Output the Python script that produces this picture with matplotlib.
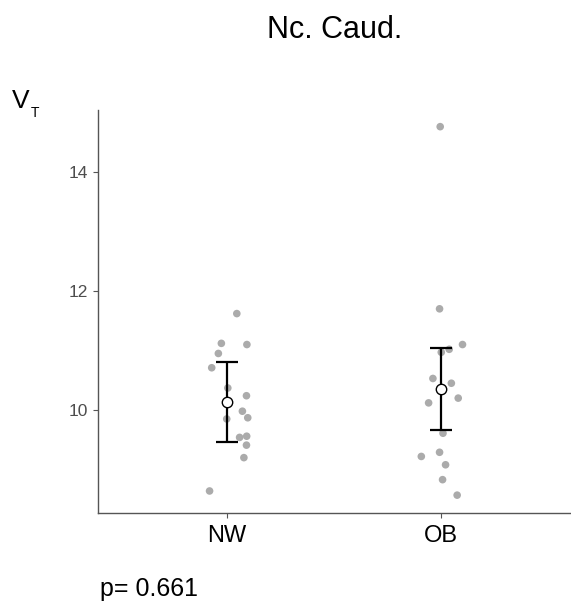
import matplotlib
matplotlib.use('Agg')
import matplotlib.pyplot as plt

plt.rcParams['font.family'] = ['Liberation Sans', 'DejaVu Sans']

groups = ['NW', 'OB']

# individual values and their horizontal jitter
nw_vals = [11.62, 11.12, 11.10, 10.95, 10.71, 10.37, 10.24, 9.98, 9.87, 9.85,
           9.54, 9.56, 9.41, 9.20, 8.64]
nw_jit = [0.047, -0.025, 0.094, -0.039, -0.070, 0.005, 0.092, 0.073, 0.098, 0.0,
          0.060, 0.093, 0.092, 0.080, -0.080]
ob_vals = [11.70, 14.76, 11.10, 10.97, 11.02, 10.53, 10.45, 10.12, 10.20, 9.61,
           9.22, 9.29, 9.08, 8.83, 8.57]
ob_jit = [-0.008, -0.005, 0.099, 0.0, 0.037, -0.039, 0.047, -0.059, 0.079, 0.008,
          -0.093, -0.008, 0.020, 0.006, 0.074]

means = [10.13, 10.35]
err_lo = [9.46, 9.66]
err_hi = [10.81, 11.05]

p_text = 'p= 0.661'
title = 'Nc. Caud.'

fig = plt.figure(figsize=(5.71, 6.05), dpi=100)
ax = fig.add_axes([98/571, 1 - 513/605, 472/571, 403/605])

for i, (vals, jit) in enumerate([(nw_vals, nw_jit), (ob_vals, ob_jit)]):
    xs = [i + 1 + j for j in jit]
    ax.scatter(xs, vals, s=30, color='#ababab', edgecolors='none', zorder=2)

xpos = [1, 2]
yerr = [[m - lo for m, lo in zip(means, err_lo)],
        [hi - m for m, hi in zip(means, err_hi)]]
ax.errorbar(xpos, means, yerr=yerr, fmt='none', ecolor='black',
            elinewidth=1.6, capsize=8, capthick=1.6, zorder=3)
ax.plot(xpos, means, 'o', markersize=7.5, markerfacecolor='white',
        markeredgecolor='black', markeredgewidth=1.0, zorder=4)

ax.set_xlim(0.4, 2.6)
ax.set_ylim(8.27, 15.04)
ax.set_xticks(xpos)
ax.set_xticklabels(groups, fontsize=17, color='black')
ax.set_yticks([10, 12, 14])
ax.tick_params(axis='y', labelsize=12.5, labelcolor='#4d4d4d', length=3.5,
               color='#555555', pad=4)
ax.tick_params(axis='x', length=3.5, color='#555555', pad=5)

for s in ['top', 'right']:
    ax.spines[s].set_visible(False)
for s in ['left', 'bottom']:
    ax.spines[s].set_color('#555555')
    ax.spines[s].set_linewidth(1.0)

fig.text(335/571, 1 - 38/605, title, fontsize=22, ha='center', va='baseline')
fig.text(12/571, 1 - 108/605, 'V', fontsize=19, ha='left', va='baseline')
fig.text(31/571, 1 - 117/605, 'T', fontsize=10, ha='left', va='baseline')
fig.text(100/571, 1 - 596/605, p_text, fontsize=18, ha='left', va='baseline')

fig.savefig('out.png', dpi=100)
